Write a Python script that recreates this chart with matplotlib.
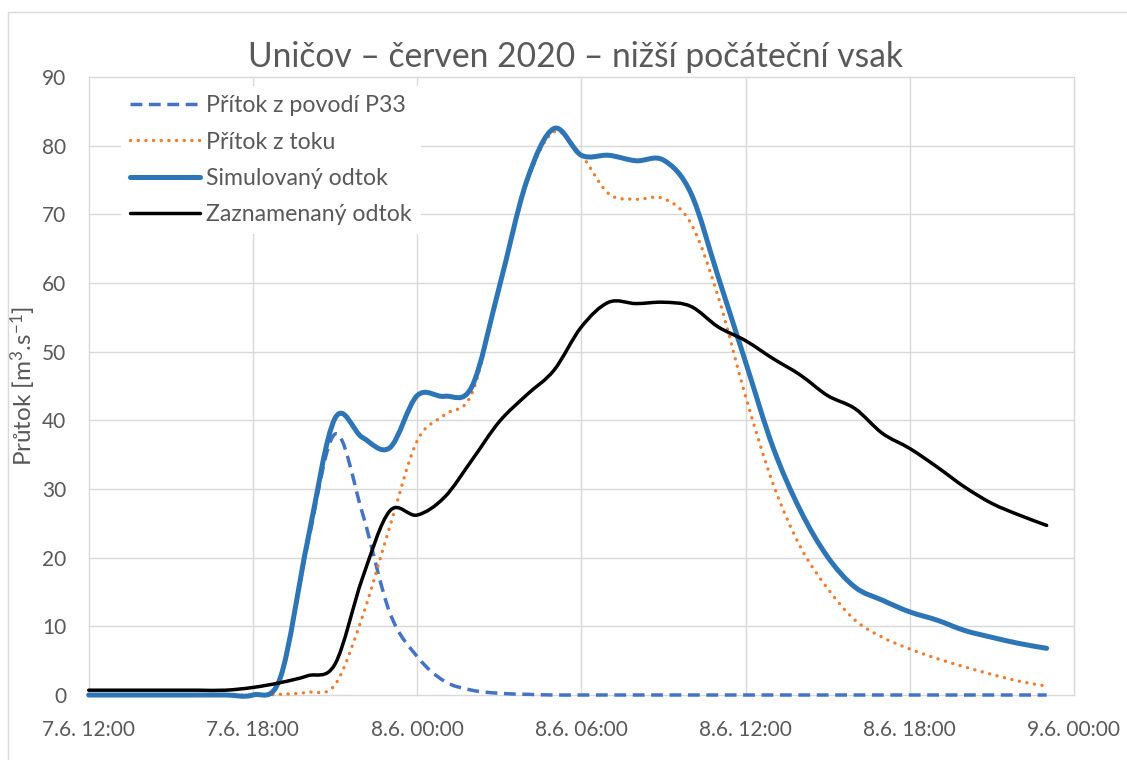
import numpy as np
import matplotlib
matplotlib.use("Agg")
import matplotlib.pyplot as plt
from matplotlib.path import Path
from matplotlib.patches import PathPatch, Rectangle
from matplotlib.lines import Line2D

plt.rcParams['font.family'] = ['Lato', 'DejaVu Sans']
plt.rcParams['mathtext.fontset'] = 'custom'
plt.rcParams['mathtext.rm'] = 'Lato'
plt.rcParams['mathtext.default'] = 'regular'

# ---- data (hours since 7.6. 12:00) ----
hours = list(range(36))
p33 = [0, 0, 0, 0, 0, 0, 0, 2.5, 22, 38, 26.5, 12, 5.6, 2.0, 0.7, 0.25, 0.1, 0,
       0, 0, 0, 0, 0, 0, 0, 0, 0, 0, 0, 0, 0, 0, 0, 0, 0, 0]
tok = [0, 0, 0, 0, 0, 0, 0, 0.1, 0.4, 1.5, 11.4, 24.5, 37, 40.8, 43.9, 59.4, 74.5, 82.0,
       78.6, 73.0, 72.2, 72.3, 68.7, 58.0, 43.5, 30.8, 21.6, 15.5, 10.9, 8.4, 6.7, 5.3,
       4.1, 3.0, 2.0, 1.3]
sim = [0, 0, 0, 0, 0, 0, 0, 2.5, 22.5, 40.3, 37.5, 36.0, 43.6, 43.5, 44.9, 59.4, 74.8,
       82.5, 78.6, 78.6, 77.8, 77.9, 73.1, 60.9, 48.5, 36.1, 26.9, 20.1, 15.7, 13.8, 12.1,
       10.9, 9.4, 8.4, 7.5, 6.8]
obs = [0.7, 0.7, 0.7, 0.7, 0.7, 0.7, 1.1, 1.8, 2.8, 4.5, 17, 26.8, 26.2, 28.8, 34.2,
       39.8, 43.7, 47.3, 53.6, 57.2, 57.0, 57.2, 56.6, 53.6, 51.6, 49.0, 46.6, 43.6, 41.7,
       38.1, 35.9, 33.2, 30.3, 27.9, 26.2, 24.7]

tick_pos = [0, 6, 12, 18, 24, 30, 36]
tick_labels = ["7.6. 12:00", "7.6. 18:00", "8.6. 00:00", "8.6. 06:00",
               "8.6. 12:00", "8.6. 18:00", "9.6. 00:00"]
series_names = ["Přítok z povodí P33", "Přítok z toku", "Simulovaný odtok", "Zaznamenaný odtok"]

GRAY = '#595959'
GRID = '#D9D9D9'


def smooth_path(x, y):
    pts = np.column_stack([np.asarray(x, float), np.asarray(y, float)])
    n = len(pts)
    verts = [pts[0]]
    codes = [Path.MOVETO]
    for i in range(n - 1):
        p0 = pts[i - 1] if i > 0 else pts[i]
        p1 = pts[i]
        p2 = pts[i + 1]
        p3 = pts[i + 2] if i + 2 < n else pts[i + 1]
        c1 = p1 + (p2 - p0) / 6.0
        c2 = p2 - (p3 - p1) / 6.0
        verts += [c1, c2, p2]
        codes += [Path.CURVE4] * 3
    return Path(verts, codes)


fig = plt.figure(figsize=(11.27, 7.6), dpi=100)
W, H = 1127.0, 760.0

# chart frame (extends past right and bottom edges)
top = 1 - 12 / H
fig.patches.append(Rectangle((8 / W, -0.5), 2.0, top + 0.5,
                             transform=fig.transFigure, fill=False,
                             edgecolor=GRID, lw=1.0, zorder=0))

ax = fig.add_axes([88.7 / W, 65 / H, (1074 - 88.7) / W, (695 - 77) / H])
ax.set_xlim(0, 36)
ax.set_ylim(0, 90)
for s in ax.spines.values():
    s.set_visible(False)
ax.set_xticks(tick_pos)
ax.set_xticklabels(tick_labels)
ax.set_yticks(range(0, 91, 10))
ax.tick_params(length=0, labelsize=15, colors=GRAY)
ax.tick_params(axis='x', pad=18)
ax.tick_params(axis='y', pad=16)
ax.grid(True, color=GRID, lw=1.0, zorder=0)
ax.set_axisbelow(True)
for gl in ax.get_xgridlines() + ax.get_ygridlines():
    gl.set_clip_on(False)

styles = [
    dict(color='#4472C4', lw=2.5, ls=(0, (3.4, 1.9)), capstyle='butt'),
    dict(color='#ED7D31', lw=2.4, ls=(0, (0.05, 2.25)), capstyle='round'),
    dict(color='#2E75B6', lw=3.6, ls='-', capstyle='round'),
    dict(color='#000000', lw=2.5, ls='-', capstyle='round'),
]
handles = []
for vals, st, name in zip([p33, tok, sim, obs], styles, series_names):
    patch = PathPatch(smooth_path(hours, vals), fill=False, edgecolor=st['color'],
                      lw=st['lw'], linestyle=st['ls'], capstyle=st['capstyle'],
                      joinstyle='round', clip_on=False, zorder=3)
    ax.add_patch(patch)
    handles.append(Line2D([], [], color=st['color'], lw=st['lw'], linestyle=st['ls'],
                          dash_capstyle=st['capstyle'], solid_capstyle='round'))

leg = ax.legend(handles, series_names, loc='upper left',
                bbox_to_anchor=(121 / W, 1 - 86 / H), bbox_transform=fig.transFigure,
                fontsize=16.7, frameon=True, fancybox=False, framealpha=1,
                facecolor='white', edgecolor='none', borderpad=0.4,
                handlelength=3.0, handletextpad=0.26, labelspacing=0.66,
                borderaxespad=0)
for t in leg.get_texts():
    t.set_color(GRAY)
leg.set_zorder(5)

ax.set_ylabel("Průtok [m$^{3}$.s$^{-1}$]", fontsize=17.5, color=GRAY, labelpad=3)

fig.text(575 / W, 1 - 57 / H, "Uničov – červen 2020 – nižší počáteční vsak",
         ha='center', va='center', fontsize=24.2, color=GRAY)

fig.savefig("out.png", dpi=100)
